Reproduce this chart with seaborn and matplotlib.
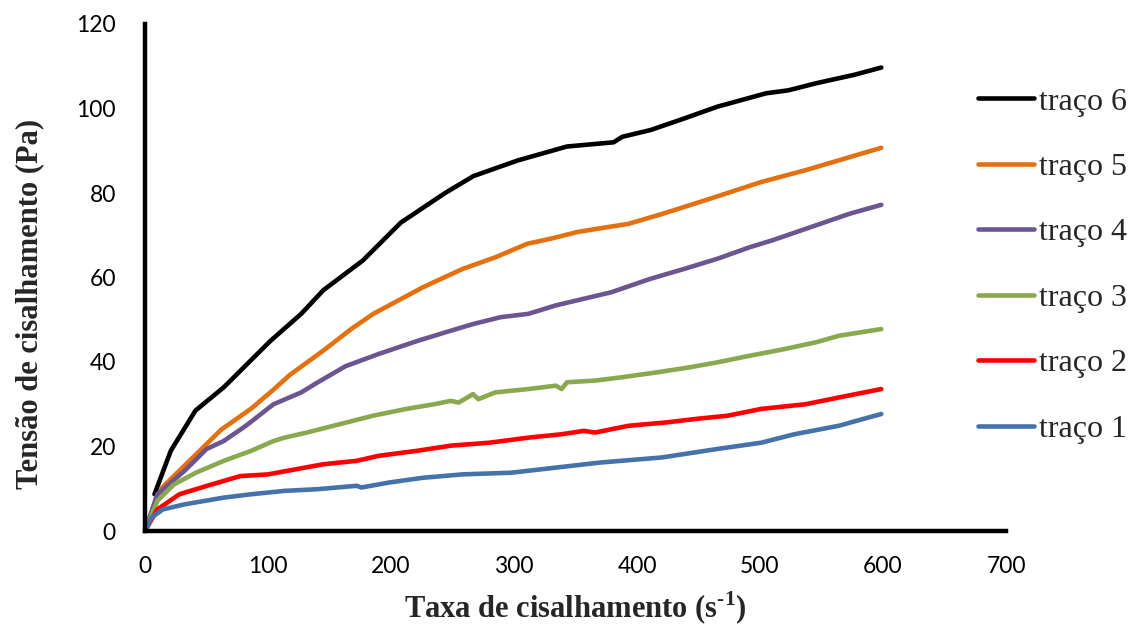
import numpy as np
import pandas as pd
import matplotlib
matplotlib.use("Agg")
import matplotlib.pyplot as plt
import seaborn as sns

# ---- data ----
x6 = [7.7, 21, 41, 64, 102, 127, 145, 177, 208, 244, 267, 303, 343, 381, 388, 411, 438, 465, 505, 523, 546, 577, 598.6]
y6 = [8.7, 19, 28.5, 34, 45, 51.4, 57, 64, 73, 80, 84, 87.7, 91, 92, 93.3, 94.9, 97.6, 100.4, 103.6, 104.3, 106, 108, 109.7]

x5 = [0, 14, 41, 62, 86.5, 105, 118, 145, 167.6, 185.6, 201, 226, 258, 285, 311, 330, 352, 393, 420, 460, 501, 537, 598.6]
y5 = [0, 10.3, 18, 24, 29, 33.6, 37, 42.7, 47.8, 51.4, 53.8, 57.7, 62, 64.8, 68, 69.2, 70.8, 72.7, 75, 78.7, 82.6, 85.4, 90.7]

x4 = [0, 10, 32, 50, 64, 82, 104.5, 127, 140.5, 163, 190, 221.6, 244, 267, 289, 311.7, 334, 379, 411, 438, 465, 492, 510, 537, 573, 598.6]
y4 = [0, 8.7, 14.2, 19.4, 21.3, 24.9, 30, 32.8, 35.2, 39, 41.9, 45, 47, 49, 50.6, 51.4, 53.4, 56.5, 59.7, 62, 64.4, 67.2, 68.8, 71.5, 75.1, 77.2]

x3 = [0, 10, 23.4, 41.4, 64, 86.5, 104.5, 113.5, 131.5, 158.6, 185.6, 212.6, 235, 248.6, 255, 266.7, 271, 284.7, 311.7, 334, 338.7, 343, 366, 388, 415, 442, 465, 492, 519, 546, 564, 598.6]
y3 = [0, 7.1, 11, 13.8, 16.6, 19, 21.3, 22.1, 23.3, 25.3, 27.3, 28.9, 30, 30.8, 30.4, 32.4, 31.2, 32.8, 33.6, 34.4, 33.6, 35.2, 35.6, 36.4, 37.5, 38.7, 39.9, 41.5, 43, 44.7, 46.2, 47.8]

x2 = [0, 10, 28, 50.5, 77.5, 100, 122.5, 145, 172, 190, 221.6, 248.6, 280, 311.7, 338.7, 356.8, 365.8, 393, 424, 447, 473.9, 501, 537, 564, 598.6]
y2 = [0, 5.1, 8.7, 10.7, 13, 13.4, 14.6, 15.8, 16.6, 17.8, 19, 20.2, 20.9, 22.1, 22.9, 23.7, 23.3, 24.9, 25.7, 26.5, 27.3, 28.9, 30, 31.6, 33.6]

x1 = [0, 5.4, 14.4, 32, 64, 86.5, 113.5, 140.5, 172, 176, 199, 226, 258, 298, 334, 370, 420, 438, 465, 501, 527.9, 564, 598.6]
y1 = [0, 3.2, 5.1, 6.3, 7.9, 8.7, 9.5, 9.9, 10.7, 10.3, 11.5, 12.6, 13.4, 13.8, 15.0, 16.2, 17.4, 18.2, 19.4, 20.9, 22.9, 24.9, 27.7]

series_names = ["traço 6", "traço 5", "traço 4", "traço 3", "traço 2", "traço 1"]
series_x = [x6, x5, x4, x3, x2, x1]
series_y = [y6, y5, y4, y3, y2, y1]
colors = ["#000000", "#E4700F", "#6D5592", "#8AA84E", "#FF0000", "#4672AA"]

x_ticks = [0, 100, 200, 300, 400, 500, 600, 700]
y_ticks = [0, 20, 40, 60, 80, 100, 120]

frames = []
for name, xs, ys in zip(series_names, series_x, series_y):
    frames.append(pd.DataFrame({"x": xs, "y": ys, "serie": name}))
df = pd.concat(frames, ignore_index=True)

sns.set_theme(style="white")
plt.rcParams["font.family"] = ["Lato", "DejaVu Sans"]
plt.rcParams["mathtext.fontset"] = "custom"
plt.rcParams["mathtext.rm"] = "Liberation Serif:bold"
plt.rcParams["mathtext.bf"] = "Liberation Serif:bold"

fig = plt.figure(figsize=(11.34, 6.28), dpi=100)
ax = fig.add_axes([145 / 1134, 1 - 531 / 628, (1006 - 145) / 1134, (531 - 24) / 628])

sns.lineplot(data=df, x="x", y="y", hue="serie", hue_order=series_names,
             palette=dict(zip(series_names, colors)), sort=False, estimator=None,
             units="serie", linewidth=3.3, ax=ax, legend=True)

ax.set_xlim(0, 700)
ax.set_ylim(0, 120)
ax.set_xticks(x_ticks)
ax.set_yticks(y_ticks)
ax.set_xticklabels([str(v) for v in x_ticks])
ax.set_yticklabels([str(v) for v in y_ticks])

for side in ["top", "right"]:
    ax.spines[side].set_visible(False)
for side in ["left", "bottom"]:
    ax.spines[side].set_linewidth(3.2)
    ax.spines[side].set_color("black")
ax.tick_params(axis="both", direction="out", length=6, width=2.5, color="black",
               labelsize=16.5, labelcolor="black")
ax.tick_params(axis="y", pad=15)
ax.tick_params(axis="x", pad=12)

ax.set_xlabel(r"Taxa de cisalhamento (s$^{\text{-}1}$)", family="Liberation Serif",
              fontweight="bold", fontsize=22)
ax.set_ylabel("Tensão de cisalhamento (Pa)", family="Liberation Serif",
              fontweight="bold", fontsize=22)
ax.xaxis.set_label_coords((575 - 145) / 861, -(608 - 531) / 507)
ax.yaxis.set_label_coords(-(145 - 30) / 861, (531 - 304) / 507)
ax.xaxis.label.set_va("center")
ax.yaxis.label.set_va("center")

leg = ax.legend(handles=ax.get_legend_handles_labels()[0], labels=series_names,
                loc="center left", bbox_to_anchor=(978 / 1134, 1 - 265.5 / 628),
                bbox_transform=fig.transFigure, frameon=False,
                prop={"family": "Liberation Serif", "size": 23},
                handlelength=1.75, handletextpad=0.15, labelspacing=1.13,
                borderpad=0, borderaxespad=0)
for h in leg.get_lines():
    h.set_linewidth(3.3)
    h.set_solid_capstyle("round")

fig.savefig("out.png", dpi=100)
